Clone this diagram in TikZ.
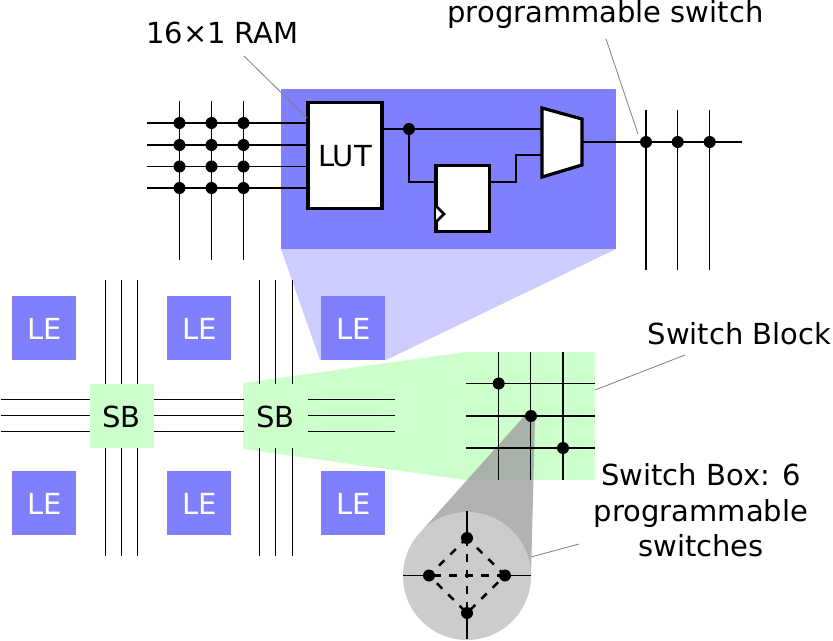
\documentclass[tikz,border=0pt]{standalone}
\usepackage{fontspec}
\setmainfont{DejaVu Sans}
\definecolor{leblue}{HTML}{8080FF}
\definecolor{paleblue}{HTML}{CCCCFF}
\definecolor{palegreen}{HTML}{CCFFCC}
\definecolor{circgray}{HTML}{CCCCCC}
\definecolor{wedgegray}{HTML}{9F9F9F}
\newcommand{\lbl}{\fontsize{21.75pt}{26pt}\selectfont}
\tikzset{
  wire/.style={draw=black,line width=0.95pt},
  thickbox/.style={draw=black,line width=2.4pt,fill=white,inner sep=0pt,outer sep=0pt,rectangle},
  leader/.style={draw=black!50,line width=0.6pt},
  dotnode/.style={circle,fill=black,inner sep=0pt,minimum size=9pt},
  lebox/.style={rectangle,fill=leblue,minimum size=48pt,inner sep=0pt,outer sep=0pt},
  sbbox/.style={rectangle,fill=palegreen,minimum size=48pt,inner sep=0pt,outer sep=0pt},
  ghostbox/.style={rectangle,minimum size=48pt,inner sep=0pt,outer sep=0pt},
  letext/.style={inner sep=0pt,font=\lbl,text=white},
  sbtext/.style={inner sep=0pt,font=\lbl,text=black},
  caption/.style={inner sep=0pt,font=\lbl,anchor=base},
  dashwire/.style={draw=black,line width=1.9pt,dash pattern=on 5.8pt off 6.2pt}
}
\begin{document}
\begin{tikzpicture}[x=0.75pt,y=-0.75pt]
\useasboundingbox (0,0) rectangle (833,640);
% zoom wedges and main panels
\fill[paleblue] (281,249) -- (616,249) -- (386,360) -- (320,360) -- cycle;
\fill[leblue] (281,89) rectangle (616,249);
\fill[palegreen] (243,383) -- (466,352) -- (466,480) -- (243,449) -- cycle;
\fill[palegreen] (466,352) rectangle (595,480);
% LE blocks
\node[lebox] (le1) at (44,328) {};
\node[lebox] (le2) at (199,328) {};
\node[lebox] (le3) at (353,328) {};
\node[lebox] (le4) at (44,503) {};
\node[lebox] (le5) at (199,503) {};
\node[lebox] (le6) at (353,503) {};
\node[letext] (le1t) at (45,329) {LE};
\node[letext] (le2t) at (199.5,329) {LE};
\node[letext] (le3t) at (353.5,329) {LE};
\node[letext] (le4t) at (45,504) {LE};
\node[letext] (le5t) at (199.5,504) {LE};
\node[letext] (le6t) at (353.5,504) {LE};
% switch blocks
\node[sbbox] (sb1) at (122,416) {};
\node[ghostbox] (sb2) at (275.5,416) {};
\node[sbtext] (sb1t) at (121.5,416.5) {SB};
\node[sbtext] (sb2t) at (275.5,416.5) {SB};
% routing around the switch blocks
\foreach \y in {399.5,415.5,431.5}{
  \coordinate (hl) at (1,\y); \coordinate (hr) at (395,\y); \coordinate (hm) at (308,\y);
  \draw[wire] (hl) -- (sb1.west |- hl);
  \draw[wire] (sb1.east |- hl) -- (sb2.west |- hl);
  \draw[wire] (hm) -- (hr);
}
\foreach \x in {105.3,121.5,137.7}{
  \coordinate (vt) at (\x,280); \coordinate (vb) at (\x,556);
  \draw[wire] (vt) -- (vt |- sb1.north);
  \draw[wire] (vt |- sb1.south) -- (vb);
}
\foreach \x in {259.5,275.7,292.2}{
  \coordinate (vt) at (\x,280); \coordinate (vb) at (\x,556);
  \draw[wire] (vt) -- (vt |- sb2.north);
  \draw[wire] (vt |- sb2.south) -- (vb);
}
% logic element contents
\node[thickbox,minimum width=55.5pt,minimum height=80pt] (lut) at (345,155.5) {};
\node[sbtext] (luttext) at (345,156.5) {LUT};
\node[thickbox,minimum width=40pt,minimum height=50pt] (ff) at (462.7,198.5) {};
\draw[line width=2pt,fill=white] (436,206) -- (444,214) -- (436,222);
\coordinate (m1) at (542,108); \coordinate (m2) at (582,119); \coordinate (m3) at (582,165); \coordinate (m4) at (542,177);
\draw[line width=2.4pt,fill=white,miter limit=10] (m1) -- (m2) -- (m3) -- (m4) -- cycle;
\foreach \y in {123,145,166.5,188}{
  \coordinate (l) at (147,\y);
  \draw[wire] (l) -- (l -| lut.west);
}
\foreach \x in {179.5,211.5,243.5}{
  \coordinate (t) at (\x,101); \coordinate (b) at (\x,260);
  \draw[wire] (t) -- (b);
  \foreach \y in {123,145,166.5,188}{ \node[dotnode] at (\x,\y) {}; }
}
\coordinate (lutout) at (382,129);
\coordinate (muxa) at (542,129);
\node[dotnode] (tap) at (409,129) {};
\draw[wire] (lutout) -- (muxa);
\draw[wire] (tap.center) |- (ff.west |- 0,182);
\draw[wire] (ff.east |- 0,182) -- (516,182) -- (516,155) -- (542,155);
\coordinate (muxout) at (582,142); \coordinate (busend) at (742,142);
\draw[wire] (muxout) -- (busend);
\foreach \x in {646,677.7,709.7}{
  \coordinate (t) at (\x,110); \coordinate (b) at (\x,270);
  \draw[wire] (t) -- (b);
  \node[dotnode] at (\x,142) {};
}
% wedge towards the switch box, under the detail grid
\coordinate (sw2c) at (531,416);
\fill[wedgegray,opacity=0.8] (527,413) -- (535,418) -- (531,576) -- (422,530.5) -- cycle;
% switch block detail
\foreach \y in {383.5,416,448}{ \coordinate (a) at (466,\y); \coordinate (b) at (595,\y); \draw[wire] (a) -- (b); }
\foreach \x in {498.7,530.8,563}{ \coordinate (a) at (\x,352); \coordinate (b) at (\x,480); \draw[wire] (a) -- (b); }
\node[dotnode] (sw1) at (498.7,383.5) {};
\node[dotnode] (sw2) at (sw2c) {};
\node[dotnode] (sw3) at (563,448) {};
% switch box detail
\node[circle,fill=circgray,minimum size=96pt,inner sep=0pt,outer sep=0pt] (circ) at (467,576) {};
\coordinate (ch1) at (403,575.5); \coordinate (ch2) at (531,575.5);
\coordinate (cv1) at (467,511); \coordinate (cv2) at (467,639);
\node[dotnode] (bt) at (467,538) {};
\node[dotnode] (bl) at (429,575.5) {};
\node[dotnode] (br) at (505,575.5) {};
\node[dotnode] (bb) at (467,613) {};
\draw[wire] (ch1) -- (bl.center);
\draw[wire] (br.center) -- (ch2);
\draw[wire] (cv1) -- (bt.center);
\draw[wire] (bb.center) -- (cv2);
\draw[dashwire,dash phase=1.5pt] (bt.center) -- (br.center);
\draw[dashwire,dash phase=9pt] (bb.center) -- (br.center);
\draw[dashwire,dash phase=3.75pt] (bl.center) -- (bb.center);
\draw[dashwire,dash phase=1.5pt] (bl.center) -- (bt.center);
\draw[dashwire,dash phase=9pt] (bl.center) -- (br.center);
\draw[dashwire] (bt.center) -- (bb.center);
% captions and leaders
\node[caption] (ram) at (222.5,43.5) {16×1 RAM};
\node[caption] (ps) at (605.5,22.5) {programmable switch};
\node[caption] (sbk) at (739.5,344) {Switch Block};
\node[caption] (sb6a) at (701,485) {Switch Box: 6};
\node[caption] (sb6b) at (701,521) {programmable};
\node[caption] (sb6c) at (701,556) {switches};
\coordinate (r1) at (244,56); \coordinate (r2) at (307,118);
\coordinate (p1) at (606,39); \coordinate (p2) at (638,134);
\coordinate (k1) at (685,355); \coordinate (k2) at (595,390);
\coordinate (x1) at (579,544); \coordinate (x2) at (531,557);
\draw[leader] (r1) -- (r2);
\draw[leader] (p1) -- (p2);
\draw[leader] (k1) -- (k2);
\draw[leader] (x1) -- (x2);
\end{tikzpicture}
\end{document}
